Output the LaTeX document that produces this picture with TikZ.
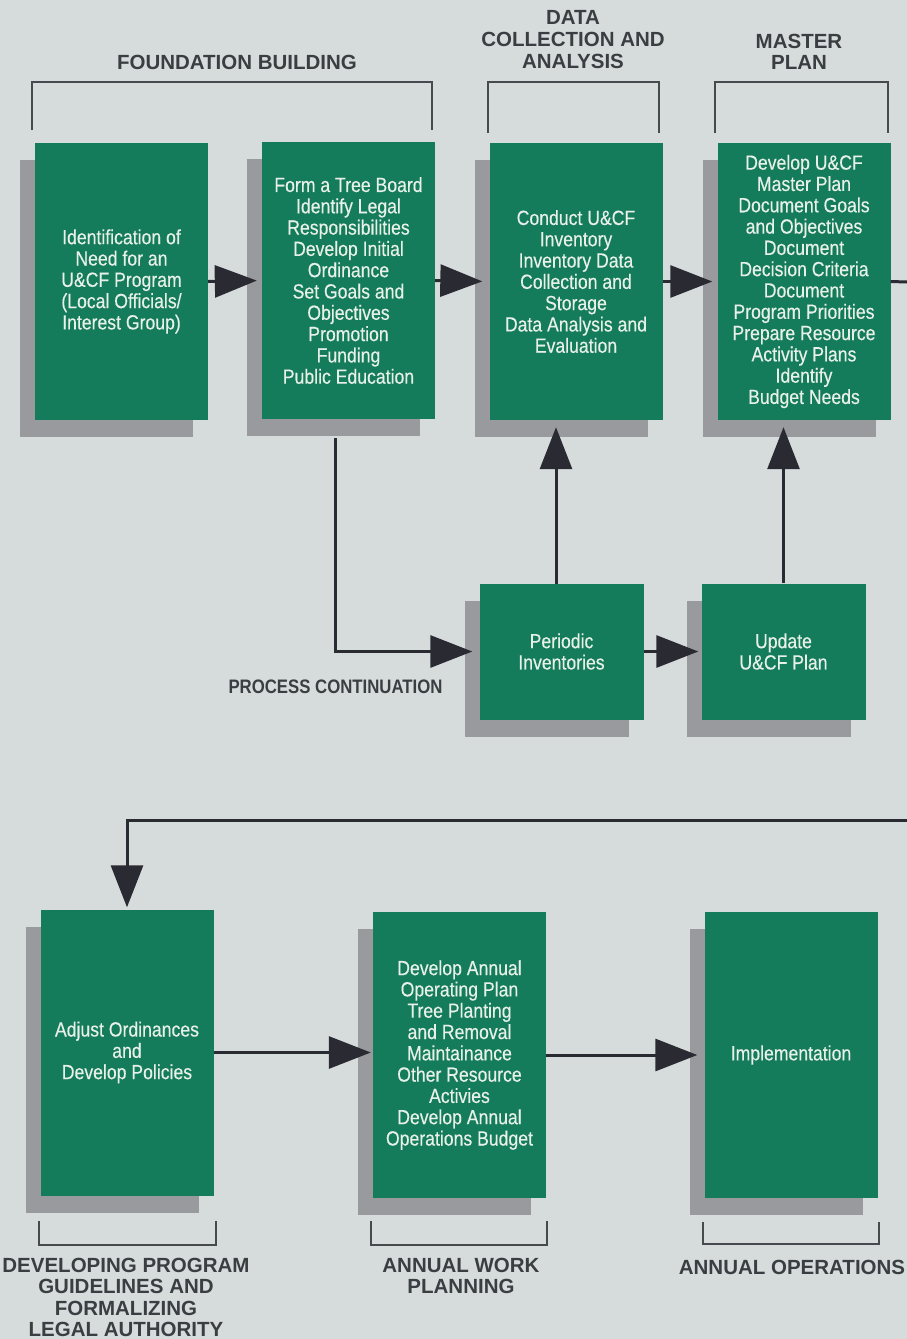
\documentclass[tikz,border=0pt]{standalone}
\usepackage{fontspec}
\setmainfont{Liberation Sans}
\newfontfamily\boxfont[FakeStretch=0.86,FakeBold=0.3]{Liberation Sans}
\newfontfamily\pcfont[FakeStretch=0.86]{Liberation Sans}
\usetikzlibrary{arrows.meta,shadows}
\definecolor{bg}{RGB}{214,220,220}
\definecolor{boxgreen}{RGB}{20,124,90}
\definecolor{shadowgray}{RGB}{152,154,157}
\definecolor{boxtext}{RGB}{232,240,234}
\definecolor{labeltext}{RGB}{58,62,66}
\definecolor{linecol}{RGB}{42,42,50}
\definecolor{bracketcol}{RGB}{70,74,78}
\begin{document}
\begin{tikzpicture}[x=1pt,y=-1pt,
  stepbox/.style={fill=boxgreen, text=boxtext, align=center, inner sep=0pt,
    font=\boxfont\fontsize{20.5}{21.3}\selectfont,
    general shadow={fill=shadowgray, shadow xshift=-15pt, shadow yshift=-17pt}},
  tallbox/.style={stepbox, minimum width=173pt, minimum height=277pt},
  lowbox/.style={stepbox, minimum width=173pt, minimum height=286pt},
  smallbox/.style={stepbox, minimum width=164pt, minimum height=136pt},
  grouplabel/.style={text=labeltext, align=center, inner sep=0pt,
    font=\bfseries\fontsize{20.5}{21.6}\selectfont},
  bracket/.style={draw=bracketcol, line width=2pt},
  conn/.style={draw=linecol, line width=3pt},
  arr/.style={conn, -{Triangle[length=42pt,width=32pt]}, shorten >=5pt}]

\useasboundingbox (0,0) rectangle (907,1339);
\fill[bg] (0,0) rectangle (907,1339);

% group brackets
\draw[bracket] (32,130) -- (32,82) -- (432,82) -- (432,130);
\draw[bracket] (488,133) -- (488,82) -- (659,82) -- (659,133);
\draw[bracket] (715,133) -- (715,82) -- (888,82) -- (888,133);
\draw[bracket] (39,1221) -- (39,1245) -- (216,1245) -- (216,1221);
\draw[bracket] (371,1221) -- (371,1245) -- (547,1245) -- (547,1221);
\draw[bracket] (703,1222) -- (703,1244) -- (879,1244) -- (879,1222);

% boxes
\node[tallbox] (A) at (121.5,281.5) {Identification of\\Need for an\\U\&CF Program\\(Local Officials/\\Interest Group)};
\node[tallbox] (B) at (348.5,280.5) {Form a Tree Board\\Identify Legal\\Responsibilities\\Develop Initial\\Ordinance\\Set Goals and\\Objectives\\Promotion\\Funding\\Public Education};
\node[tallbox] (C) at (576,281.5) {Conduct U\&CF\\Inventory\\Inventory Data\\Collection and\\Storage\\Data Analysis and\\Evaluation};
\node[tallbox] (D) at (804,281.5) {Develop U\&CF\\Master Plan\\Document Goals\\and Objectives\\Document\\Decision Criteria\\Document\\Program Priorities\\Prepare Resource\\Activity Plans\\Identify\\Budget Needs};
\node[smallbox] (P) at (561.5,651.5) {Periodic\\Inventories};
\node[smallbox] (U) at (783.5,651.5) {Update\\U\&CF Plan};
\node[lowbox] (E) at (127,1052.5) {Adjust Ordinances\\and\\Develop Policies};
\node[lowbox] (F) at (459.5,1055) {Develop Annual\\Operating Plan\\Tree Planting\\and Removal\\Maintainance\\Other Resource\\Activies\\Develop Annual\\Operations Budget};
\node[lowbox] (G) at (791,1055) {Implementation};

% helper coordinates
\coordinate (outR) at (907,282);
\coordinate (inR) at (907,820);
\coordinate (bdown) at (335,438);
\coordinate (pu) at (556,583.5);

% connectors
\draw[arr] (A.east) -- (B.west);
\draw[arr, shorten >=7pt] (B.east) -- (C.west);
\draw[arr] (C.east) -- (D.west);
\draw[conn] (D.east) -- (outR);
\draw[arr, shorten >=2pt] (inR) -- (E.north |- inR) -- (E.north);
\draw[arr, shorten >=7pt] (bdown) |- (P.west);
\draw[arr, shorten >=7pt] (pu) -- (pu |- C.south);
\draw[arr, shorten >=7pt] (U.north) -- (U.north |- D.south);
\draw[arr, shorten >=3pt] (P.east) -- (U.west);
\draw[arr, shorten >=2pt] (E.east) -- (E.east -| F.west);
\draw[arr, shorten >=7pt] (F.east) -- (F.east -| G.west);

% labels
\node[grouplabel] (fb) at (237,62) {FOUNDATION BUILDING};
\node[grouplabel] (dca) at (573,39.5) {DATA\\COLLECTION AND\\ANALYSIS};
\node[grouplabel] (mp) at (799,52) {MASTER\\PLAN};
\node[text=labeltext, inner sep=0pt, font=\pcfont\bfseries\fontsize{19.5}{21}\selectfont] (pc) at (335.5,687) {PROCESS CONTINUATION};
\node[grouplabel] (dpg) at (126,1297.5) {DEVELOPING PROGRAM\\GUIDELINES AND\\FORMALIZING\\LEGAL AUTHORITY};
\node[grouplabel] (awp) at (461,1276) {ANNUAL WORK\\PLANNING};
\node[grouplabel] (ao) at (792,1267) {ANNUAL OPERATIONS};
\end{tikzpicture}
\end{document}
